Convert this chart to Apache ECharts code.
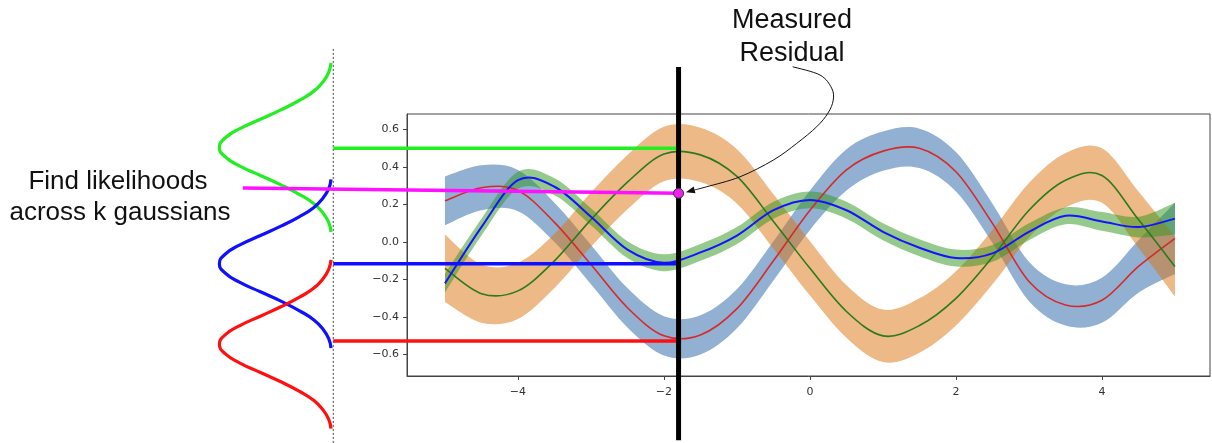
<!DOCTYPE html>
<html>
<head>
<meta charset="utf-8">
<script src="https://cdn.jsdelivr.net/npm/echarts@6/dist/echarts.min.js"></script>
<style>
html,body{margin:0;padding:0;background:#fff;}
#main{width:1212px;height:443px;}
</style>
</head>
<body>
<div id="main"></div>
<script>
// sample positions along x
const xs = [-5,-4.5,-4,-3.5,-3,-2.5,-2,-1.5,-1,-0.5,0,0.5,1,1.5,2,2.5,3,3.5,4,4.5,5];

// red mean + half width of the blue band around it
const redMean   = [0.22,0.29,0.275,0.105,-0.12,-0.35,-0.50,-0.495,-0.355,-0.10,0.17,0.385,0.485,0.50,0.375,0.10,-0.21,-0.335,-0.31,-0.13,0.02];
const redSpread = [0.13,0.12,0.11,0.105,0.105,0.105,0.105,0.105,0.105,0.105,0.105,0.11,0.105,0.105,0.105,0.105,0.105,0.11,0.12,0.14,0.19];

// dark green mean + orange band
const greenMean   = [-0.14,-0.275,-0.26,-0.10,0.12,0.32,0.47,0.465,0.35,0.11,-0.14,-0.37,-0.50,-0.445,-0.30,-0.08,0.17,0.33,0.355,0.12,-0.13];
const greenSpread = [0.18,0.155,0.15,0.145,0.145,0.145,0.145,0.145,0.145,0.145,0.145,0.14,0.14,0.145,0.145,0.145,0.145,0.145,0.145,0.15,0.16];

// blue mean + light green band
const blueMean   = [-0.22,0.08,0.33,0.295,0.135,-0.04,-0.11,-0.055,0.035,0.17,0.225,0.17,0.055,-0.03,-0.085,-0.06,0.055,0.14,0.11,0.08,0.125];
const blueSpread = [0.05,0.045,0.045,0.045,0.045,0.045,0.045,0.045,0.045,0.045,0.045,0.045,0.045,0.045,0.045,0.045,0.045,0.045,0.05,0.055,0.085];

const xTicks = [-4,-2,0,2,4];
const yTicks = [-0.6,-0.4,-0.2,0,0.2,0.4,0.6];

// measured residual and the k gaussians on the left
const measuredX = -1.8;
const measuredY = 0.26;
const gaussColors  = ['#22ee22','#1010ff','#ff1010'];
const gaussCenters = [0.505,-0.115,-0.545];
const pickLevels   = [0.5,-0.115,-0.527];
const gaussBaseX = -6.53;
const gaussHeight = 1.56;
const gaussOffsets = [-0.45,-0.4,-0.35,-0.3,-0.25,-0.2,-0.15,-0.1,-0.05,0,0.05,0.1,0.15,0.2,0.25,0.3,0.35,0.4,0.45];
const gaussProfile = [0.02,0.04,0.09,0.17,0.30,0.46,0.64,0.82,0.95,1,0.95,0.82,0.64,0.46,0.30,0.17,0.09,0.04,0.02];
const magentaStart = [-7.77,0.288];
const arrowPath = [[-0.237,0.935],[0.137,0.891],[0.297,0.821],[0.319,0.757],[0.247,0.688],[0.092,0.615],[-0.182,0.526],[-0.503,0.437],[-0.959,0.348],[-1.415,0.295],[-1.70,0.266]];

// layout of the main axes (pixels)
const W = 1212, H = 443;
const gL = 407, gT = 114, gW = 803, gH = 262;
const xMin = -5.52, xMax = 5.48, yMin = -0.714, yMax = 0.683;
const pxX = gW/(xMax-xMin), pxY = gH/(yMax-yMin);

const minus = s => String(s).replace('-', '\u2212');

// catmull-rom through pixel points -> svg path segments
function spline(pts, start){
    let d = start + pts[0][0] + ' ' + pts[0][1];
    for(let i=0;i<pts.length-1;i++){
        const p0 = pts[i-1] || pts[i], p1 = pts[i], p2 = pts[i+1], p3 = pts[i+2] || pts[i+1];
        d += ' C' + (p1[0]+(p2[0]-p0[0])/6) + ' ' + (p1[1]+(p2[1]-p0[1])/6) + ' '
               + (p2[0]-(p3[0]-p1[0])/6) + ' ' + (p2[1]-(p3[1]-p1[1])/6) + ' '
               + p2[0] + ' ' + p2[1];
    }
    return d;
}

function band(mean, spread, color){
    return {type:'custom', silent:true, z:2, data:[0],
        renderItem:(params, api)=>{
            const up = xs.map((x,i)=>api.coord([x, mean[i]+spread[i]]));
            const lo = xs.map((x,i)=>api.coord([x, mean[i]-spread[i]])).reverse();
            return {type:'path', shape:{pathData: spline(up,'M') + ' ' + spline(lo,'L') + ' Z'},
                style:{fill:color, stroke:null}};
        }};
}
function meanLine(mean, color, width){
    return {type:'custom', silent:true, z:3, data:[0],
        renderItem:(params, api)=>{
            const pts = xs.map((x,i)=>api.coord([x, mean[i]]));
            return {type:'path', shape:{pathData: spline(pts,'M')},
                style:{fill:'none', stroke:color, lineWidth:width}};
        }};
}
function overlay(obj){
    return Object.assign({xAxisIndex:1, yAxisIndex:1, silent:true, symbol:'none', animation:false}, obj);
}

let series = [
    band(redMean, redSpread, 'rgba(37,97,165,0.5)'),
    band(greenMean, greenSpread, 'rgba(219,115,15,0.5)'),
    band(blueMean, blueSpread, 'rgba(45,150,25,0.5)'),
    meanLine(redMean,'#d62a2a',1.6),
    meanLine(greenMean,'#2b7a1e',1.6),
    meanLine(blueMean,'#1414ff',2)
];

// dotted baseline of the gaussians
series.push(overlay({type:'line', z:4, lineStyle:{color:'#444', width:1, type:[2,2]},
    data:[[gaussBaseX,1.03],[gaussBaseX,-1.08]]}));
// gaussians and the picked levels
gaussCenters.forEach((c,k)=>{
    series.push(overlay({type:'line', smooth:true, z:5, lineStyle:{color:gaussColors[k], width:3.2},
        data: gaussOffsets.map((o,i)=>[gaussBaseX - gaussHeight*gaussProfile[i], c+o])}));
    series.push(overlay({type:'line', z:5, lineStyle:{color:gaussColors[k], width:3.5},
        data:[[gaussBaseX, pickLevels[k]],[measuredX, pickLevels[k]]]}));
});
series.push(overlay({type:'line', z:5, lineStyle:{color:'#ff10ff', width:3.5},
    data:[magentaStart,[measuredX, measuredY]]}));
// black measurement line
series.push(overlay({type:'line', z:6, lineStyle:{color:'#000', width:5},
    data:[[measuredX,0.933],[measuredX,-1.056]]}));
// arrow from the text to the measured point
series.push(overlay({type:'custom', z:7, data:[0],
    renderItem:(params, api)=>{
        const pts = arrowPath.map(p=>api.coord(p));
        const tip = pts[pts.length-1], prev = pts[pts.length-2];
        let dx = tip[0]-prev[0], dy = tip[1]-prev[1];
        const len = Math.hypot(dx,dy); dx/=len; dy/=len;
        const hl = 9, hw = 3.5;
        const bx = tip[0]-dx*hl, by = tip[1]-dy*hl;
        return {type:'group', children:[
            {type:'path', shape:{pathData: spline(pts.slice(0,-1).concat([[bx,by]]),'M')},
             style:{fill:'none', stroke:'#111', lineWidth:1}},
            {type:'polygon', shape:{points:[tip,[bx-dy*hw,by+dx*hw],[bx+dy*hw,by-dx*hw]]},
             style:{fill:'#111'}}
        ]};
    }}));
// measured point
series.push(overlay({type:'scatter', z:8, symbol:'circle', symbolSize:10,
    itemStyle:{color:'#ee22ee', borderColor:'#333', borderWidth:1, opacity:1},
    data:[[measuredX, measuredY]]}));

const chart = echarts.init(document.getElementById('main'));
chart.setOption({
    animation:false,
    backgroundColor:'#fff',
    grid:[
        {left:gL, top:gT, width:gW, height:gH, show:true, borderColor:'#444', borderWidth:1, containLabel:false, outerBoundsMode:'none'},
        {left:0, top:0, width:W, height:H, containLabel:false, outerBoundsMode:'none'}
    ],
    xAxis:[
        {type:'value', gridIndex:0, min:xMin, max:xMax,
         axisLine:{show:true, onZero:false, lineStyle:{color:'#444'}},
         axisTick:{show:true, length:4, customValues:xTicks, lineStyle:{color:'#444'}},
         axisLabel:{customValues:xTicks, margin:11, color:'#333', fontSize:11, fontFamily:'DejaVu Sans', formatter:v=>minus(v)},
         splitLine:{show:false}},
        {type:'value', gridIndex:1, show:false,
         min: xMin - gL/pxX, max: xMin - gL/pxX + W/pxX}
    ],
    yAxis:[
        {type:'value', gridIndex:0, min:yMin, max:yMax,
         axisLine:{show:true, onZero:false, lineStyle:{color:'#444'}},
         axisTick:{show:true, length:4, customValues:yTicks, lineStyle:{color:'#444'}},
         axisLabel:{customValues:yTicks, margin:8, color:'#333', fontSize:11, fontFamily:'DejaVu Sans', formatter:v=>minus(v.toFixed(1))},
         splitLine:{show:false}},
        {type:'value', gridIndex:1, show:false,
         max: yMax + gT/pxY, min: yMax + gT/pxY - H/pxY}
    ],
    graphic:[
        {type:'text', x:792, y:21, z:20, style:{text:'Measured', fontSize:27, fontFamily:'Liberation Sans', fill:'#111', align:'center', verticalAlign:'middle'}},
        {type:'text', x:792, y:54, z:20, style:{text:'Residual', fontSize:27, fontFamily:'Liberation Sans', fill:'#111', align:'center', verticalAlign:'middle'}},
        {type:'text', x:118, y:182, z:20, style:{text:'Find likelihoods', fontSize:26, fontFamily:'Liberation Sans', fill:'#111', align:'center', verticalAlign:'middle'}},
        {type:'text', x:120, y:213, z:20, style:{text:'across k gaussians', fontSize:26, fontFamily:'Liberation Sans', fill:'#111', align:'center', verticalAlign:'middle'}}
    ],
    series: series
});
</script>
</body>
</html>
